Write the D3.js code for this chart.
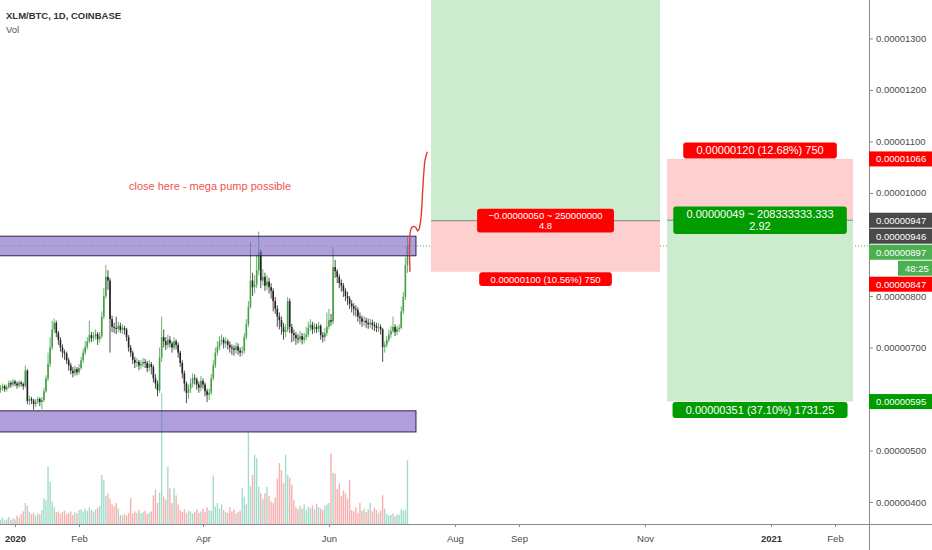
<!DOCTYPE html>
<html>
<head>
<meta charset="utf-8">
<script src="https://cdn.jsdelivr.net/npm/d3@7"></script>
<style>
  body { margin: 0; background: #fff; }
  svg { display: block; font-family: "Liberation Sans", Arial, sans-serif; }
</style>
</head>
<body>
<svg id="chart"></svg>
<script>
var width = 932,
    height = 550,
    plotRight = 869,
    plotBottom = 524;

// daily candles starting 2019-12-25, prices in satoshi (1e-8 BTC)
var firstDay = Date.UTC(2019, 11, 25);
var firstOpen = 618;
var closes = [
  621,625,619,623,631,628,634,630,626,632, 629,625,655,596,600,597,590,595,600,594,
  598,615,640,668,700,735,748,728,715,700, 690,688,675,665,655,650,658,652,660,675,
  690,701,712,724,718,722,726,716,722,760, 800,837,830,755,740,738,736,742,734,738,
  735,720,700,690,676,670,672,665,668,672, 670,660,668,662,640,630,617,680,720,712,
  705,715,708,700,712,705,690,670,650,630, 612,620,630,640,638,628,622,635,628,615,
  608,612,640,665,690,701,712,715,708,712, 705,700,698,695,702,694,690,693,720,745,
  779,830,817,822,850,885,830,837,820,828, 817,810,790,775,760,753,740,730,735,790,
  740,728,724,718,716,722,715,720,725,738, 744,735,740,736,742,724,720,728,740,753,
  750,856,848,837,825,820,810,800,795,785, 780,775,773,760,757,750,752,748,745,748,
  744,742,738,740,735,701,705,715,725,732, 740,730,736,738,770,798,860,897
];
var highs = [
  627,630,628,628,636,635,639,637,634,636, 635,632,665,658,606,604,600,600,605,603,
  604,622,646,690,720,752,756,752,732,720, 706,696,692,680,670,662,665,662,668,682,
  698,712,720,752,730,730,735,730,730,770, 815,860,850,835,762,748,760,750,748,745,
  742,738,724,705,694,682,680,676,675,680, 678,674,676,672,666,648,636,700,760,735,
  720,725,722,712,720,716,710,694,675,655, 634,628,640,650,648,642,634,645,640,632,
  620,620,648,675,700,712,722,725,720,720, 716,712,706,704,710,708,700,702,728,755,
  790,905,845,840,880,925,890,852,845,840, 835,825,815,798,782,768,760,748,745,798,
  795,746,735,730,726,732,728,728,740,750, 755,750,748,746,750,745,730,738,768,775,
  765,895,870,852,842,832,825,815,808,800, 792,786,782,778,768,762,760,758,756,756,
  754,750,748,748,745,738,712,722,735,742, 760,745,742,745,780,808,875,914
];
var lows = [
  612,616,614,615,620,622,624,625,620,622, 624,618,622,590,588,590,579,584,590,586,
  580,594,612,635,662,695,728,720,705,692, 680,676,668,655,648,642,645,646,648,656,
  670,685,696,708,710,712,715,705,710,718, 755,795,812,690,730,728,726,730,728,726,
  725,712,692,682,668,660,662,656,658,662, 660,652,654,648,632,620,605,612,672,700,
  695,698,700,690,695,696,680,662,640,615, 592,600,612,622,628,618,612,615,620,605,
  594,598,608,636,660,684,695,705,698,700, 696,690,686,684,688,686,682,684,688,715,
  740,775,800,805,815,840,815,820,810,812, 805,795,770,765,740,735,725,715,720,730,
  728,710,712,705,708,710,706,708,714,720, 732,726,728,728,730,715,710,712,722,735,
  742,745,835,825,815,808,798,790,782,775, 768,762,760,750,745,740,742,738,736,738,
  735,732,730,730,725,672,690,700,710,718, 728,722,724,730,735,765,792,845
];
var volumes = [
  6,9,5,7,10,6,8,7,12,9, 14,18,30,26,17,14,16,12,15,14,
  20,37,34,82,60,32,24,17,18,15, 17,19,14,16,18,13,17,15,20,21,
  18,22,19,24,20,18,21,23,26,70, 63,40,44,36,28,25,30,22,13,12,
  14,12,16,37,15,18,16,20,15,17, 19,14,16,18,41,49,30,45,187,39,
  35,82,51,30,51,41,28,20,17,21, 16,19,18,15,17,21,16,18,22,17,
  24,20,19,69,25,30,22,28,20,17, 16,24,18,21,15,17,19,51,39,28,
  131,54,70,99,94,53,44,36,44,53, 40,32,30,38,65,87,77,58,99,70,
  66,56,34,24,21,26,22,28,20,25, 23,27,21,29,24,22,20,26,28,30,
  101,73,72,50,58,40,48,44,36,63, 20,18,24,16,30,19,22,17,21,30,
  18,23,20,16,19,41,22,14,12,13, 15,11,14,13,21,19,20,91
];

// axis ticks
var priceTicks = [400, 500, 600, 700, 800, 900, 1000, 1100, 1200, 1300];
var dateTicks = ["2020-01-01","2020-02-01","2020-04-01","2020-06-01","2020-08-01",
                 "2020-09-01","2020-11-01","2021-01-01","2021-02-01"];
var dateTickLabels = ["2020","Feb","Apr","Jun","Aug","Sep","Nov","2021","Feb"];

// support / resistance zones
var zoneStart = "2019-12-01";
var zoneEnd = "2020-07-13T03:00Z";
var zoneTops = [916, 577];
var zoneBottoms = [878, 536];

// position tools (long, short)
var posStarts = ["2020-07-20T10:00Z", "2020-11-11T17:00Z"];
var posEnds = ["2020-11-08T07:00Z", "2021-02-09T17:00Z"];
var posEntries = [946, 947];
var posStops = [847, 1066];
var posTargets = [1420, 595];
var posMidTexts = [["\u22120.00000050 ~ 250000000", "4.8"], ["0.00000049 ~ 208333333.333", "2.92"]];
var posMidColors = ["#ff0000", "#009c00"];
var posStopTexts = ["0.00000100 (10.56%) 750", "0.00000120 (12.68%) 750"];
var posTargetTexts = ["", "0.00000351 (37.10%) 1731.25"];
var posFonts = [9.5, 11];

// price marks on the right scale
var axisMarks = [1066, 947, 946, 897, 847, 595];
var axisMarkColors = ["#ff0000", "#4a4a4a", "#4a4a4a", "#4caf50", "#ff0000", "#009c00"];
var lastPrice = 897;
var countdownText = "48:25";

// hand-drawn projection (days after 2020-01-01, price)
var curveDays = [191.2, 191.7, 192.8, 194.0, 195.0, 195.7, 196.6, 197.2, 197.9, 198.5, 199.6];
var curvePrices = [847, 930, 935, 933, 926, 931, 953, 992, 1038, 1063, 1080];
var noteText = "close here - mega pump possible";
var noteDate = "2020-04-04T10:00Z";
var notePrice = 1005;

var svg = d3.select("#chart")
    .attr("width", width)
    .attr("height", height);

var x = d3.scaleUtc()
    .domain([new Date("2020-01-01"), new Date("2021-02-01")])
    .range([15, 835]);
var y = d3.scaleLinear().domain([400, 1300]).range([502, 38.4]);
var yVol = d3.scaleLinear().domain([0, 100]).range([plotBottom, 454]);

var candles = closes.map(function(c, i) {
  return {
    date: d3.utcDay.offset(new Date(firstDay), i),
    open: i ? closes[i - 1] : firstOpen,
    close: c, high: highs[i], low: lows[i], vol: volumes[i]
  };
});

svg.append("defs").append("clipPath").attr("id", "plotclip")
  .append("rect").attr("x", 0).attr("y", 0).attr("width", plotRight).attr("height", plotBottom);

var plot = svg.append("g").attr("clip-path", "url(#plotclip)");

// volume
plot.selectAll(".vol")
  .data(candles)
  .join("rect")
  .attr("x", function(d) { return x(d.date) - 0.7; })
  .attr("width", 1.4)
  .attr("y", function(d) { return yVol(d.vol); })
  .attr("height", function(d) { return plotBottom - yVol(d.vol); })
  .attr("fill", function(d) { return d.close >= d.open ? "#a3dcca" : "#f7b0b0"; });

// candles
plot.selectAll(".wick")
  .data(candles)
  .join("line")
  .attr("x1", function(d) { return x(d.date); })
  .attr("x2", function(d) { return x(d.date); })
  .attr("y1", function(d) { return y(d.high); })
  .attr("y2", function(d) { return y(d.low); })
  .attr("stroke", function(d) { return d.close >= d.open ? "#43a047" : "#222"; })
  .attr("stroke-width", 0.8);

plot.selectAll(".body")
  .data(candles)
  .join("rect")
  .attr("x", function(d) { return x(d.date) - 0.8; })
  .attr("width", 1.6)
  .attr("y", function(d) { return y(Math.max(d.open, d.close)); })
  .attr("height", function(d) { return Math.max(0.8, Math.abs(y(d.open) - y(d.close))); })
  .attr("fill", function(d) { return d.close >= d.open ? "#43a047" : "#222"; });

// zones
plot.selectAll(".zone")
  .data(zoneTops)
  .join("rect")
  .attr("x", x(new Date(zoneStart)))
  .attr("width", x(new Date(zoneEnd)) - x(new Date(zoneStart)))
  .attr("y", function(d) { return y(d); })
  .attr("height", function(d, i) { return y(zoneBottoms[i]) - y(d); })
  .attr("fill", "rgba(123,95,197,0.6)")
  .attr("stroke", "#2b2450")
  .attr("stroke-width", 1);

// last price dotted line
plot.append("line")
  .attr("x1", 0).attr("x2", plotRight)
  .attr("y1", y(lastPrice)).attr("y2", y(lastPrice))
  .attr("stroke", "#4caf50")
  .attr("stroke-dasharray", "1,2");

// position boxes
function label(g, cx, cy, lines, fill, fs) {
  var two = lines.length > 1;
  var base = two ? cy - 0.2 * fs : cy + 0.36 * fs;
  var w = 0;
  lines.forEach(function(s, k) {
    var t = g.append("text")
      .attr("x", cx)
      .attr("y", base + k * 1.1 * fs)
      .attr("fill", "#fff")
      .attr("font-size", fs)
      .attr("text-anchor", "middle")
      .text(s);
    w = Math.max(w, t.node().getComputedTextLength());
  });
  var h = two ? 2.5 * fs : 1.45 * fs;
  g.insert("rect", "text")
    .attr("x", cx - w / 2 - 1.2 * fs)
    .attr("width", w + 2.4 * fs)
    .attr("y", cy - h / 2)
    .attr("height", h)
    .attr("rx", 3)
    .attr("fill", fill);
}

posEntries.forEach(function(entry, i) {
  var x0 = x(new Date(posStarts[i])), x1 = x(new Date(posEnds[i]));
  var ye = y(entry), ys = y(posStops[i]), yt = y(posTargets[i]);
  plot.append("rect")
    .attr("x", x0).attr("width", x1 - x0)
    .attr("y", Math.min(ye, ys)).attr("height", Math.abs(ys - ye))
    .attr("fill", "#fdcfcf");
  plot.append("rect")
    .attr("x", x0).attr("width", x1 - x0)
    .attr("y", Math.min(ye, yt)).attr("height", Math.abs(yt - ye))
    .attr("fill", "#cdebcf");
  plot.append("line")
    .attr("x1", x0).attr("x2", x1).attr("y1", ye).attr("y2", ye)
    .attr("stroke", "#808080").attr("stroke-width", 1);
});

posEntries.forEach(function(entry, i) {
  var cx = (x(new Date(posStarts[i])) + x(new Date(posEnds[i]))) / 2;
  var fs = posFonts[i];
  var h1 = 1.45 * fs;
  var ys = y(posStops[i]), yt = y(posTargets[i]);
  var dir = posStops[i] > entry ? -1 : 1;
  label(plot.append("g"), cx, y(entry), posMidTexts[i], posMidColors[i], fs);
  label(plot.append("g"), cx, ys + dir * (h1 / 2 + 0.5), [posStopTexts[i]], "#ff0000", fs);
  if (posTargetTexts[i]) {
    label(plot.append("g"), cx, yt - dir * (h1 / 2 + 0.5), [posTargetTexts[i]], "#009c00", fs);
  }
});

// projection curve
var curvePoints = curveDays.map(function(d, i) {
  return [x(new Date(Date.UTC(2020, 0, 1) + d * 864e5)), y(curvePrices[i])];
});
plot.append("path")
  .attr("d", d3.line().curve(d3.curveCatmullRom)(curvePoints))
  .attr("fill", "none")
  .attr("stroke", "#e53935")
  .attr("stroke-width", 1.4);

plot.append("text")
  .attr("x", x(new Date(noteDate)))
  .attr("y", y(notePrice))
  .attr("text-anchor", "middle")
  .attr("font-size", 11)
  .attr("fill", "#ef5350")
  .text(noteText);

// title
svg.append("text").attr("x", 6).attr("y", 18.5)
  .attr("font-size", 9.5).attr("font-weight", "bold").attr("fill", "#333")
  .text("XLM/BTC, 1D, COINBASE");
svg.append("text").attr("x", 6).attr("y", 33)
  .attr("font-size", 9.5).attr("fill", "#555")
  .text("Vol");

// price marks on the scale, stacked so they do not overlap
var marks = [];
axisMarks.forEach(function(p, i) {
  marks.push({text: (p / 1e8).toFixed(8), y: y(p), fill: axisMarkColors[i], x0: plotRight});
  if (p === lastPrice) marks.push({text: countdownText, y: y(p), fill: axisMarkColors[i], x0: 898});
});
var prev = -Infinity;
marks.forEach(function(m) {
  m.yc = Math.max(m.y, prev + 16);
  prev = m.yc;
});

// the scale hides tick labels that a price mark covers
var shownTicks = priceTicks.filter(function(t) {
  return marks.every(function(m) { return m.x0 > plotRight || Math.abs(y(t) - m.yc) > 11; });
});

// axes
var yAxis = svg.append("g")
  .attr("transform", "translate(" + plotRight + ",0)")
  .call(d3.axisRight(y)
    .tickValues(shownTicks)
    .tickSize(4)
    .tickPadding(3)
    .tickFormat(function(d) { return (d / 1e8).toFixed(8); }));
yAxis.select(".domain").remove();
yAxis.selectAll("text").attr("font-size", 9.5).attr("font-family", "Liberation Sans, Arial, sans-serif").attr("fill", "#4a4a4a");
yAxis.selectAll("line").attr("stroke", "#8a8a8a");

var xAxis = svg.append("g")
  .attr("transform", "translate(0," + plotBottom + ")")
  .call(d3.axisBottom(x)
    .tickValues(dateTicks.map(function(d) { return new Date(d); }))
    .tickSize(3)
    .tickPadding(8)
    .tickFormat(function(d, i) { return dateTickLabels[i]; }));
xAxis.select(".domain").remove();
xAxis.selectAll("text").attr("font-size", 9.5).attr("font-family", "Liberation Sans, Arial, sans-serif")
  .attr("fill", function(d, i) { return /^\d/.test(dateTickLabels[i]) ? "#333" : "#4a4a4a"; })
  .attr("font-weight", function(d, i) { return /^\d/.test(dateTickLabels[i]) ? "bold" : "normal"; });
xAxis.selectAll("line").attr("stroke", "#8a8a8a");

svg.append("line")
  .attr("x1", 0).attr("x2", width).attr("y1", plotBottom + 0.5).attr("y2", plotBottom + 0.5)
  .attr("stroke", "#8a8a8a");
svg.append("line")
  .attr("x1", plotRight + 0.5).attr("x2", plotRight + 0.5).attr("y1", 0).attr("y2", height)
  .attr("stroke", "#8a8a8a");

var markG = svg.selectAll(".mark").data(marks).join("g");
markG.append("rect")
  .attr("x", function(d) { return d.x0; })
  .attr("width", function(d) { return width - d.x0; })
  .attr("y", function(d) { return d.yc - 7.5; })
  .attr("height", 15)
  .attr("fill", function(d) { return d.fill; });
markG.append("text")
  .attr("x", function(d) { return d.x0 + 7; })
  .attr("y", function(d) { return d.yc + 3.4; })
  .attr("font-size", 9.5)
  .attr("fill", "#fff")
  .text(function(d) { return d.text; });
</script>
</body>
</html>
